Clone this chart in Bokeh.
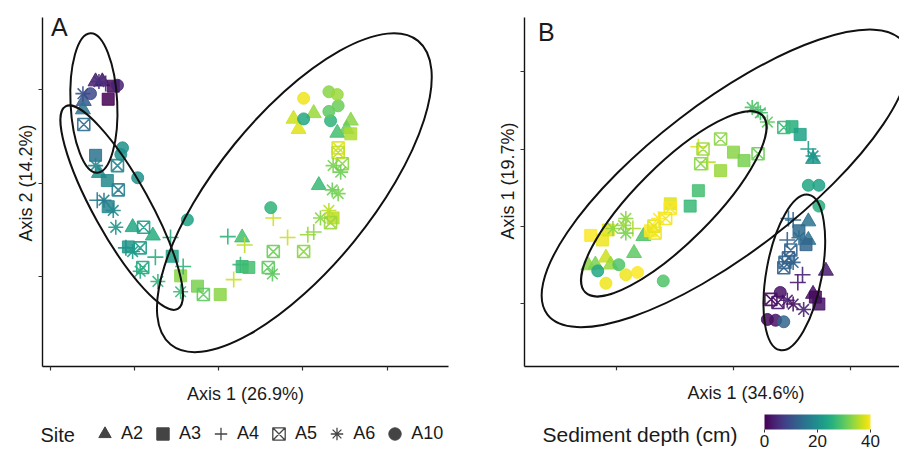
from bokeh.plotting import figure
from bokeh.models import (Range1d, FixedTicker, ColumnDataSource, Legend, LegendItem,
                          LinearColorMapper, ColorBar, Label, Title, LinearAxis)
from bokeh.transform import transform
from bokeh.palettes import Viridis256
from bokeh.layouts import row, column
from bokeh.embed import file_html
from bokeh.resources import INLINE

# ---------------- data ----------------
site_names = ["A2", "A3", "A4", "A5", "A6", "A10"]

# Panel A  (NMDS axis 1 vs axis 2)
a_site = ["A2", "A2", "A3", "A3", "A10", "A6", "A2", "A10", "A6", "A4",
          "A2", "A5", "A3", "A6", "A2", "A10", "A10", "A5", "A10", "A3",
          "A5", "A4", "A6", "A3", "A6", "A6", "A2", "A5", "A2", "A4",
          "A3", "A5", "A6", "A4", "A10", "A4", "A3", "A5", "A6", "A6",
          "A4", "A3", "A6", "A3", "A5", "A3", "A4", "A4", "A3", "A3",
          "A4", "A2", "A4", "A5", "A5", "A6", "A10", "A4", "A4", "A5",
          "A4", "A4", "A6", "A5", "A3", "A6", "A2", "A6", "A6", "A6",
          "A5", "A6", "A5", "A5", "A2", "A2", "A3", "A2", "A10", "A10",
          "A10", "A10", "A10", "A10", "A2", "A2", "A2", "A10"]
a_x = [-1.46, -1.38, -1.25, -1.31, -1.20, -1.61, -1.60, -1.52, -1.42, -1.34,
       -1.61, -1.60, -1.46, -1.46, -1.42, -1.14, -1.16, -1.20, -0.96, -1.32,
       -1.19, -1.44, -1.36, -1.31, -1.25, -1.22, -1.02, -0.89, -0.78, -1.10,
       -1.07, -0.93, -1.02, -0.57, -0.37, -0.75, -0.55, -0.90, -0.93, -0.72,
       -0.42, -0.45, -0.45, -0.25, -0.18, 0.02, 0.18, 0.26, 0.28, 0.36,
       0.11, 0.28, 0.31, 0.65, 0.59, 0.64, 0.62, 0.65, 0.82, 1.01,
       1.06, 1.13, 1.21, 1.33, 1.36, 1.31, 1.19, 1.35, 1.42, 1.36,
       1.47, 1.45, 1.42, 1.42, 1.41, 1.57, 1.57, 1.52, 1.33, 1.31,
       1.42, 1.31, 1.41, 1.01, 0.89, 0.95, 1.13, 1.01]
a_y = [1.09, 1.09, 1.04, 0.90, 1.05, 0.96, 0.88, 0.96, 1.09, 1.07,
       0.79, 0.63, 0.30, 0.19, 0.11, 0.38, 0.31, 0.19, 0.06, 0.03,
       -0.07, -0.18, -0.18, -0.25, -0.29, -0.47, -0.47, -0.47, -0.56, -0.69,
       -0.68, -0.69, -0.73, -0.58, -0.39, -0.79, -0.78, -0.90, -0.94, -1.05,
       -0.89, -0.99, -1.16, -1.10, -1.19, -1.19, -1.03, -0.87, -0.89, -0.90,
       -0.57, -0.58, -0.66, -0.73, -0.90, -0.97, -0.26, -0.37, -0.58, -0.73,
       -0.55, -0.52, -0.37, -0.42, -0.37, -0.29, -0.02, -0.07, -0.11, 0.19,
       0.21, 0.12, 0.38, 0.33, 0.54, 0.67, 0.53, 0.58, 0.67, 0.77,
       0.83, 0.98, 0.95, 0.91, 0.69, 0.58, 0.75, 0.69]
a_depth = [3, 2, 1, 0, 4, 10, 11, 9, 6, 5,
           15, 14, 15, 18, 20, 20, 20, 18, 20, 19,
           17, 16, 17, 18, 19, 21, 24, 22, 25, 20,
           21, 22, 22, 24, 23, 25, 23, 24, 25, 26,
           26, 33, 27, 32, 30, 33, 37, 27, 27, 28,
           26, 28, 36, 31, 30, 30, 26, 37, 37, 33,
           34, 33, 33, 34, 36, 36, 27, 31, 32, 32,
           33, 31, 38, 36, 28, 33, 35, 31, 26, 30,
           31, 33, 34, 39, 37, 38, 34, 24]

a_ell_x = [-1.48, -1.15, 0.90]
a_ell_y = [0.86, -0.26, -0.10]
a_ell_w = [1.66, 2.75, 4.65]
a_ell_h = [0.50, 0.60, 1.65]
a_ell_angle = [1.62, -1.065, 0.887]

# Panel B
b_site = ["A6", "A6", "A6", "A4", "A5", "A3", "A3", "A4", "A6", "A2",
          "A5", "A5", "A4", "A5", "A4", "A3", "A3", "A5", "A3", "A3",
          "A3", "A3", "A5", "A5", "A6", "A5", "A3", "A5", "A6", "A6",
          "A6", "A6", "A4", "A2", "A2", "A3", "A3", "A3", "A2", "A2",
          "A2", "A2", "A10", "A10", "A10", "A10", "A10", "A10", "A10", "A10",
          "A10", "A4", "A4", "A2", "A3", "A2", "A3", "A5", "A4", "A6",
          "A5", "A6", "A5", "A5", "A4", "A4", "A2", "A10", "A5", "A5",
          "A6", "A6", "A6", "A3", "A3", "A2", "A10", "A10", "A10"]
b_x = [0.16, 0.23, 0.29, 0.21, 0.43, 0.50, 0.57, 0.64, 0.68, 0.68,
       -0.11, -0.26, -0.30, -0.28, -0.22, 0.00, 0.09, 0.21, -0.11, -0.30,
       -0.37, -0.54, -0.54, -0.58, -0.64, -0.68, -0.71, -0.67, -0.92, -0.94,
       -1.03, -0.92, -0.86, -0.77, -0.85, -1.22, -1.12, -1.07, -1.24, -1.18,
       -1.09, -1.05, -1.16, -0.98, -0.92, -0.82, -1.09, -0.60, 0.64, 0.73,
       0.73, 0.47, 0.51, 0.64, 0.56, 0.64, 0.62, 0.49, 0.46, 0.56,
       0.47, 0.51, 0.43, 0.44, 0.59, 0.55, 0.79, 0.40, 0.32, 0.38,
       0.46, 0.51, 0.60, 0.70, 0.73, 0.68, 0.29, 0.36, 0.43]
b_y = [1.54, 1.47, 1.35, 1.51, 1.28, 1.29, 1.19, 1.00, 0.91, 0.87,
       1.13, 1.00, 1.03, 0.81, 0.83, 0.96, 0.85, 0.94, 0.72, 0.46,
       0.26, 0.29, 0.23, 0.10, 0.10, 0.00, -0.06, -0.09, 0.10, 0.01,
       -0.03, -0.09, -0.03, -0.13, -0.35, -0.12, -0.18, -0.05, -0.51, -0.50,
       -0.41, -0.50, -0.58, -0.50, -0.63, -0.60, -0.74, -0.71, 0.53, 0.53,
       0.26, 0.10, 0.08, 0.06, -0.06, -0.18, -0.24, -0.31, -0.18, -0.15,
       -0.41, -0.47, -0.54, -0.47, -0.63, -0.73, -0.58, -0.86, -0.95, -0.99,
       -0.96, -1.01, -1.08, -0.92, -1.01, -0.88, -1.21, -1.22, -1.24]
b_depth = [29, 28, 30, 29, 27, 25, 23, 22, 21, 21,
           33, 34, 38, 33, 36, 33, 32, 31, 34, 28,
           27, 38, 40, 39, 40, 38, 40, 39, 33, 34,
           33, 32, 35, 29, 30, 40, 39, 38, 33, 32,
           37, 34, 24, 29, 39, 40, 39, 29, 24, 23,
           25, 14, 13, 15, 14, 15, 13, 13, 12, 14,
           12, 13, 12, 13, 4, 3, 3, 2, 1, 2,
           3, 2, 4, 1, 2, 2, 1, 2, 13]

b_ell_x = [-0.07, -0.51, 0.52]
b_ell_y = [0.62, 0.29, -0.60]
b_ell_w = [3.83, 2.14, 1.35]
b_ell_h = [1.95, 1.00, 0.72]
b_ell_angle = [0.654, 0.785, 1.389]

a_xticks = [-2, -1, 0, 1, 2]
a_yticks = [-1, 0, 1]
b_xticks = [-1, 0, 1]
b_yticks = [-1, 0, 1, 2]
depth_ticks = [0, 20, 40]

# ---------------- style ----------------
FONT = "Liberation Sans"
TXT = "#1a1a1a"
MARKERS = {"A2": "triangle", "A3": "square", "A4": "cross",
           "A5": "square_x", "A6": "asterisk", "A10": "circle"}
SIZES = {"A2": 15, "A3": 12, "A4": 16, "A5": 12, "A6": 15, "A10": 12}
FILLED = {"A2", "A3", "A10"}

mapper = LinearColorMapper(palette=Viridis256, low=0, high=40)


def axis_title(text, offset, standoff):
    return Title(text=text, align="left", offset=offset, standoff=standoff,
                 text_font=FONT, text_font_size="18px", text_font_style="normal",
                 text_color=TXT)


def make_panel(site, xs, ys, depth, ell, xr, yr, xticks, yticks,
               w, h, bl, br, bt, bb):
    p = figure(width=w, height=h, x_range=Range1d(*xr), y_range=Range1d(*yr),
               output_backend="svg", toolbar_location=None,
               min_border_left=bl, min_border_right=br,
               min_border_top=bt, min_border_bottom=bb)
    p.outline_line_color = None
    p.xgrid.visible = False
    p.ygrid.visible = False
    for ax, ticks in ((p.xaxis[0], xticks), (p.yaxis[0], yticks)):
        ax.ticker = FixedTicker(ticks=ticks, minor_ticks=[])
        ax.axis_line_color = "#111111"
        ax.axis_line_width = 1.4
        ax.major_tick_line_color = "#333333"
        ax.major_tick_line_width = 1.2
        ax.major_tick_in = 0
        ax.major_tick_out = 4
        ax.minor_tick_line_color = None
        ax.major_label_text_font_size = "0px"
        ax.major_label_text_color = None
        ax.major_label_standoff = 0
        ax.axis_label_text_font = FONT
        ax.axis_label_text_font_size = "18px"
        ax.axis_label_text_font_style = "normal"
        ax.axis_label_text_color = TXT
    for s in site_names:
        idx = [i for i, v in enumerate(site) if v == s]
        src = ColumnDataSource(dict(x=[xs[i] for i in idx],
                                    y=[ys[i] for i in idx],
                                    depth=[depth[i] for i in idx]))
        col = transform("depth", mapper)
        if s in FILLED:
            p.scatter("x", "y", source=src, marker=MARKERS[s], size=SIZES[s],
                      fill_color=col, line_color=col, fill_alpha=0.85,
                      line_alpha=0.85)
        else:
            p.scatter("x", "y", source=src, marker=MARKERS[s], size=SIZES[s],
                      fill_color=None, line_color=col, line_width=1.6,
                      line_alpha=0.9)
    ex, ey, ew, eh, ea = ell
    p.ellipse(x=ex, y=ey, width=ew, height=eh, angle=ea, fill_color=None,
              line_color="#111111", line_width=2)
    return p


pA = make_panel(a_site, a_x, a_y, a_depth,
                (a_ell_x, a_ell_y, a_ell_w, a_ell_h, a_ell_angle),
                (-2.09, 2.73), (-1.96, 1.775), a_xticks, a_yticks,
                452, 406, 42, 4, 15, 38)
pB = make_panel(b_site, b_x, b_y, b_depth,
                (b_ell_x, b_ell_y, b_ell_w, b_ell_h, b_ell_angle),
                (-1.786, 1.419), (-1.82, 2.706), b_xticks, b_yticks,
                447, 406, 72, 0, 17, 36)

# panel letters
pA.add_layout(Label(x=-1.99, y=1.672, text="A", text_font=FONT,
                    text_font_size="25px", text_color=TXT,
                    text_baseline="alphabetic"))
pB.add_layout(Label(x=-1.67, y=2.524, text="B", text_font=FONT,
                    text_font_size="25px", text_color=TXT,
                    text_baseline="alphabetic"))

# axis titles
pA.xaxis[0].axis_label = "Axis 1 (26.9%)"
pA.xaxis[0].axis_label_standoff = 13
pA.add_layout(axis_title("Axis 2 (14.2%)", 125, 5), "left")

spacer_axis = LinearAxis(ticker=FixedTicker(ticks=b_xticks, minor_ticks=[]),
                         axis_line_color=None, major_tick_line_color="white",
                         major_tick_in=0, major_tick_out=10,
                         minor_tick_line_color=None,
                         major_label_text_font_size="0px",
                         major_label_text_color=None, major_label_standoff=0)
pB.add_layout(spacer_axis, "below")
pB.add_layout(axis_title("Axis 1 (34.6%)", 163, 1), "below")
pB.add_layout(axis_title("Axis 1 (19.7%)", 127, 5), "left")

# ---------------- bottom: site legend ----------------
pL = figure(width=452, height=43, x_range=Range1d(0, 1), y_range=Range1d(0, 1),
            x_axis_type=None, y_axis_type=None, min_border=0,
            output_backend="svg", toolbar_location=None)
pL.outline_line_color = None
items = []
for s in site_names:
    if s in FILLED:
        r = pL.scatter(x=[-1], y=[-1], marker=MARKERS[s], fill_color="#444444",
                       line_color="#444444")
    else:
        r = pL.scatter(x=[-1], y=[-1], marker=MARKERS[s], fill_color=None,
                       line_color="#444444", line_width=1.3)
    items.append(LegendItem(label=s, renderers=[r]))
leg = Legend(items=items, orientation="horizontal", location=(88, 0),
             glyph_width=33, glyph_height=31, label_standoff=0, spacing=3,
             padding=0, margin=0, border_line_color=None,
             background_fill_alpha=0, label_text_font=FONT,
             label_text_font_size="18px", label_text_color=TXT)
pL.add_layout(leg, "center")
pL.add_layout(Label(x=40, y=15, x_units="screen", y_units="screen", text="Site",
                    text_font=FONT, text_font_size="20px", text_color=TXT,
                    text_baseline="middle"))

# ---------------- bottom: colour bar ----------------
pC = figure(width=447, height=43, x_range=Range1d(0, 1), y_range=Range1d(0, 1),
            x_axis_type=None, y_axis_type=None, min_border=0,
            output_backend="svg", toolbar_location=None)
pC.outline_line_color = None
cb = ColorBar(color_mapper=mapper, orientation="horizontal", width=106,
              height=15, location=(312, 0), padding=0,
              ticker=FixedTicker(ticks=depth_ticks),
              major_label_text_font=FONT, major_label_text_font_size="17px",
              major_label_text_color=TXT, major_tick_in=0, major_tick_out=3,
              major_tick_line_color="#333333", minor_tick_line_color=None,
              label_standoff=2, bar_line_color=None, border_line_color=None,
              background_fill_alpha=0)
pC.add_layout(cb, "center")
pC.add_layout(Label(x=90, y=15, x_units="screen", y_units="screen",
                    text="Sediment depth (cm)", text_font=FONT,
                    text_font_size="21px", text_color=TXT,
                    text_baseline="middle"))

layout = column(row(pA, pB), row(pL, pC))
open("out.html", "w").write(file_html(layout, INLINE))
